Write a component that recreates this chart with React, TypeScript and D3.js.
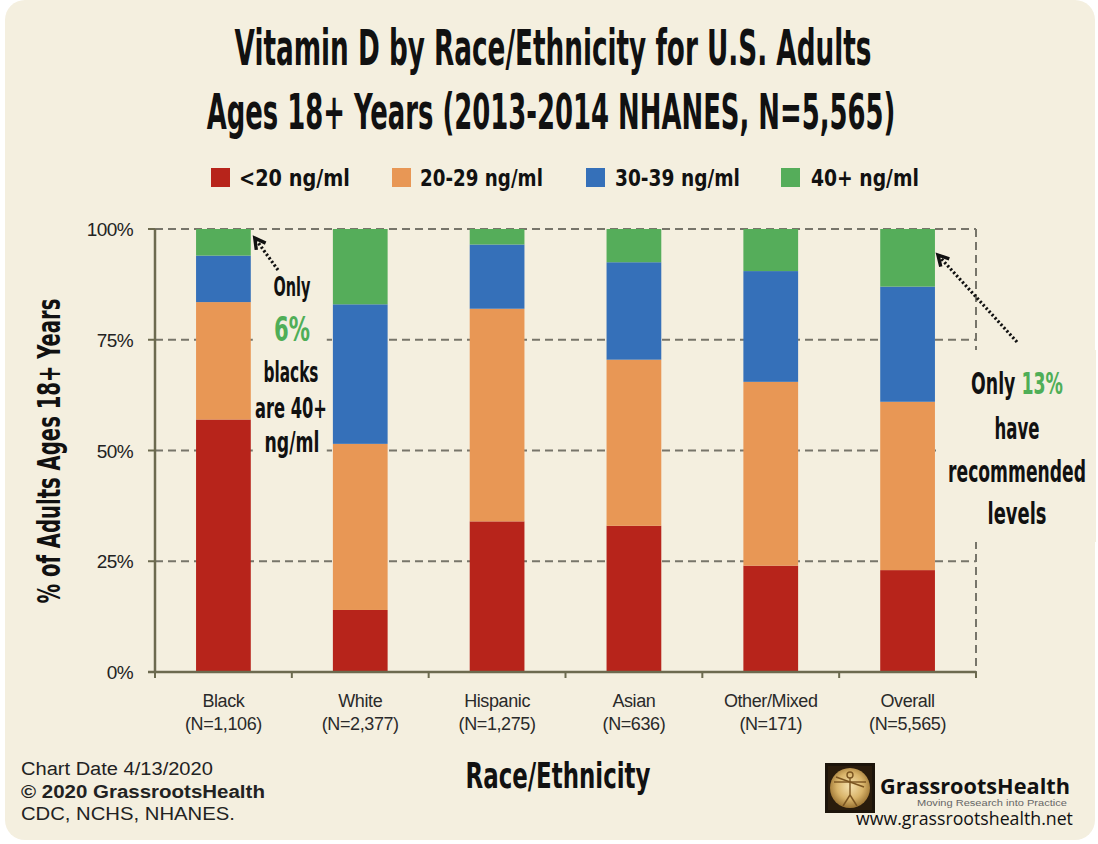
import React, { useLayoutEffect, useRef, useState } from "react";
import * as d3 from "d3";

const categories = ["Black", "White", "Hispanic", "Asian", "Other/Mixed", "Overall"];
const nLabels = ["(N=1,106)", "(N=2,377)", "(N=1,275)", "(N=636)", "(N=171)", "(N=5,565)"];
const seriesNames = ["<20 ng/ml", "20-29 ng/ml", "30-39 ng/ml", "40+ ng/ml"];
const seriesColors = ["#b7241b", "#e89755", "#3570b9", "#55ad5a"];
const lt20 = [57, 14, 34, 33, 24, 23];
const r20to29 = [26.5, 37.5, 48, 37.5, 41.5, 38];
const r30to39 = [10.5, 31.5, 14.5, 22, 25, 26];
const r40plus = [6, 17, 3.5, 7.5, 9.5, 13];
const yTicks = [0, 25, 50, 75, 100];

const W = 1098;
const H = 844;
const BG = "#f4efdf";
const HEAVY = "'DejaVu Sans', sans-serif";
const ARIAL = "'Liberation Sans', Arial, sans-serif";
const GREEN_TXT = "#4fae57";

type FitProps = {
  x: number;
  y: number;
  width: number;
  anchor?: "start" | "middle" | "end";
  rotate?: number;
  children: React.ReactNode;
  [k: string]: any;
};

function FitText({ x, y, width, anchor = "middle", rotate = 0, children, ...rest }: FitProps) {
  const ref = useRef<SVGTextElement>(null);
  const [s, setS] = useState(1);
  useLayoutEffect(() => {
    if (ref.current) {
      const w = ref.current.getComputedTextLength();
      if (w > 0) setS(width / w);
    }
  }, [width]);
  return (
    <g transform={`translate(${x},${y}) rotate(${rotate}) scale(${s},1)`}>
      <text ref={ref} x={0} y={0} textAnchor={anchor} {...rest}>
        {children}
      </text>
    </g>
  );
}

function arrow(x1: number, y1: number, x2: number, y2: number) {
  const ang = Math.atan2(y1 - y2, x1 - x2);
  const L = 12;
  const a1 = ang + 0.5;
  const a2 = ang - 0.5;
  const head = `M${x2 + L * Math.cos(a1)},${y2 + L * Math.sin(a1)} L${x2},${y2} L${x2 + L * Math.cos(a2)},${y2 + L * Math.sin(a2)}`;
  return (
    <g>
      <line x1={x1} y1={y1} x2={x2 + 3 * Math.cos(ang)} y2={y2 + 3 * Math.sin(ang)} stroke="#111" strokeWidth={3.2} strokeDasharray="2.2,2.2" />
      <path d={head} fill="none" stroke="#111" strokeWidth={3.4} strokeLinejoin="miter" />
    </g>
  );
}

export default function App() {
  const x0 = 155, x1 = 976, yTop = 229, yBot = 672;
  const x = d3.scaleBand<string>().domain(categories).range([x0, x1]).paddingInner(0.6).paddingOuter(0.3);
  const y = d3.scaleLinear().domain([0, 100]).range([yBot, yTop]);
  const step = (x1 - x0) / categories.length;

  const rows = categories.map((c, i) => ({
    cat: c,
    s0: lt20[i],
    s1: r20to29[i],
    s2: r30to39[i],
    s3: r40plus[i],
  }));
  const stack = d3.stack<any>().keys(["s0", "s1", "s2", "s3"]);
  const layers = stack(rows);
  const bw = x.bandwidth();

  const axisColor = "#6c6a4f";
  const gridColor = "#77756a";

  const blackRight = (x("Black") as number) + bw;
  const overallRight = (x("Overall") as number) + bw;

  const heavy = { fontFamily: HEAVY, fontWeight: 700, fill: "#111" };

  return (
    <svg width={W} height={H} style={{ position: "absolute", left: 0, top: 0 }} xmlns="http://www.w3.org/2000/svg">
      <defs>
        <radialGradient id="gold" cx="50%" cy="45%" r="55%">
          <stop offset="0%" stopColor="#f6e2b0" />
          <stop offset="60%" stopColor="#d9b46a" />
          <stop offset="100%" stopColor="#9c7433" />
        </radialGradient>
      </defs>
      <rect x={0} y={0} width={W} height={H} fill="#ffffff" />
      <rect x={5} y={0} width={1090} height={840} rx={20} ry={20} fill={BG} />

      {/* Title */}
      <FitText x={553} y={65} width={637} fontSize={50} {...heavy}>
        Vitamin D by Race/Ethnicity for U.S. Adults
      </FitText>
      <FitText x={551} y={129} width={689} fontSize={50} {...heavy}>
        Ages 18+ Years (2013-2014 NHANES, N=5,565)
      </FitText>

      {/* Legend */}
      {seriesNames.map((name, i) => {
        const sq = [211, 392, 586, 781][i];
        const tx = [239, 420, 615, 811][i];
        const tw = [111, 123, 125, 108][i];
        return (
          <g key={name}>
            <rect x={sq} y={168} width={19} height={19} fill={seriesColors[i]} />
            <FitText x={tx} y={186} width={tw} anchor="start" fontSize={23} {...heavy}>
              {name}
            </FitText>
          </g>
        );
      })}

      {/* Gridlines */}
      {yTicks.filter((t) => t > 0).map((t) => (
        <line key={t} x1={x0} x2={x1} y1={y(t)} y2={y(t)} stroke={gridColor} strokeWidth={2} strokeDasharray="8,5" />
      ))}
      <line x1={x1} x2={x1} y1={yTop} y2={yBot} stroke={gridColor} strokeWidth={2} strokeDasharray="8,5" />

      {/* Bars */}
      {layers.map((layer, li) => (
        <g key={li} fill={seriesColors[li]}>
          {layer.map((d: any, i: number) => (
            <rect key={i} x={x(categories[i])} y={y(d[1])} width={bw} height={y(d[0]) - y(d[1])} />
          ))}
        </g>
      ))}

      {/* Axes */}
      <line x1={x0} x2={x0} y1={yTop} y2={yBot} stroke={axisColor} strokeWidth={2.5} />
      <line x1={x0 - 7} x2={x1} y1={yBot} y2={yBot} stroke={axisColor} strokeWidth={2.5} />
      {yTicks.map((t) => (
        <g key={t}>
          <line x1={x0 - 7} x2={x0} y1={y(t)} y2={y(t)} stroke={axisColor} strokeWidth={2} />
          <text x={133} y={y(t) + 7} textAnchor="end" fontFamily={ARIAL} fontSize={19} letterSpacing={-0.6} fill="#222">
            {t}%
          </text>
        </g>
      ))}
      {d3.range(categories.length + 1).map((i) => (
        <line key={i} x1={x0 + i * step} x2={x0 + i * step} y1={yBot} y2={yBot + 6} stroke={axisColor} strokeWidth={2} />
      ))}
      {categories.map((c, i) => {
        const cx = (x(c) as number) + bw / 2;
        return (
          <g key={c}>
            <text x={cx} y={707} textAnchor="middle" fontFamily={ARIAL} fontSize={18} letterSpacing={-0.4} fill="#2a2a2a">
              {c}
            </text>
            <text x={cx} y={730} textAnchor="middle" fontFamily={ARIAL} fontSize={18} letterSpacing={-0.4} fill="#2a2a2a">
              {nLabels[i]}
            </text>
          </g>
        );
      })}

      {/* Axis titles */}
      <FitText x={60} y={451} rotate={-90} width={305} fontSize={32} {...heavy}>
        % of Adults Ages 18+ Years
      </FitText>
      <FitText x={558} y={788} width={185} fontSize={36} {...heavy}>
        Race/Ethnicity
      </FitText>

      {/* Annotation: Black */}
      <rect x={blackRight + 2} y={238} width={74} height={226} fill={BG} />
      {arrow(278, 270, blackRight + 4, 238)}
      <FitText x={292} y={296} width={37} fontSize={26} {...heavy}>Only</FitText>
      <FitText x={292} y={341} width={36} fontSize={34} {...heavy} fill={GREEN_TXT}>6%</FitText>
      <FitText x={291} y={382} width={55} fontSize={28} {...heavy}>blacks</FitText>
      <FitText x={291} y={418} width={72} fontSize={28} {...heavy}>are 40+</FitText>
      <FitText x={292} y={452} width={55} fontSize={28} {...heavy}>ng/ml</FitText>

      {/* Annotation: Overall */}
      <rect x={936} y={350} width={160} height={192} fill={BG} />
      {arrow(1017, 342, overallRight + 3, 255)}
      <FitText x={1017} y={394} width={92} fontSize={30} {...heavy}>
        Only <tspan fill={GREEN_TXT}>13%</tspan>
      </FitText>
      <FitText x={1017} y={439} width={45} fontSize={30} {...heavy}>have</FitText>
      <FitText x={1017} y={482} width={138} fontSize={30} {...heavy}>recommended</FitText>
      <FitText x={1017} y={524} width={59} fontSize={30} {...heavy}>levels</FitText>

      {/* Footer left */}
      <g fill="#222">
        <FitText x={21} y={775} width={192} anchor="start" fontFamily={ARIAL} fontSize={19}>Chart Date 4/13/2020</FitText>
        <FitText x={21} y={798} width={244} anchor="start" fontFamily={ARIAL} fontSize={19} fontWeight={700}>© 2020 GrassrootsHealth</FitText>
        <FitText x={21} y={820} width={214} anchor="start" fontFamily={ARIAL} fontSize={19}>CDC, NCHS, NHANES.</FitText>
      </g>

      {/* Logo */}
      <g>
        <rect x={825} y={763} width={50} height={50} fill="#1c140a" />
        <rect x={828} y={766} width={44} height={44} fill="#2a1c0c" />
        <circle cx={850} cy={788} r={20} fill="url(#gold)" />
        <g stroke="#7a5420" strokeWidth={1.4} fill="none">
          <circle cx={850} cy={775} r={3} />
          <line x1={850} y1={778} x2={850} y2={795} />
          <line x1={834} y1={782} x2={866} y2={782} />
          <line x1={836} y1={777} x2={864} y2={787} />
          <line x1={850} y1={795} x2={843} y2={806} />
          <line x1={850} y1={795} x2={857} y2={806} />
        </g>
        <FitText x={880} y={794} width={190} anchor="start" fontFamily="'Open Sans', sans-serif" fontWeight={700} fontSize={21} fill="#111">GrassrootsHealth</FitText>
        <FitText x={917} y={806} width={150} anchor="start" fontFamily={ARIAL} fontSize={9} fill="#666">Moving Research into Practice</FitText>
        <FitText x={856} y={825} width={217} anchor="start" fontFamily="'Open Sans', sans-serif" fontSize={18} fill="#111">www.grassrootshealth.net</FitText>
      </g>
    </svg>
  );
}
